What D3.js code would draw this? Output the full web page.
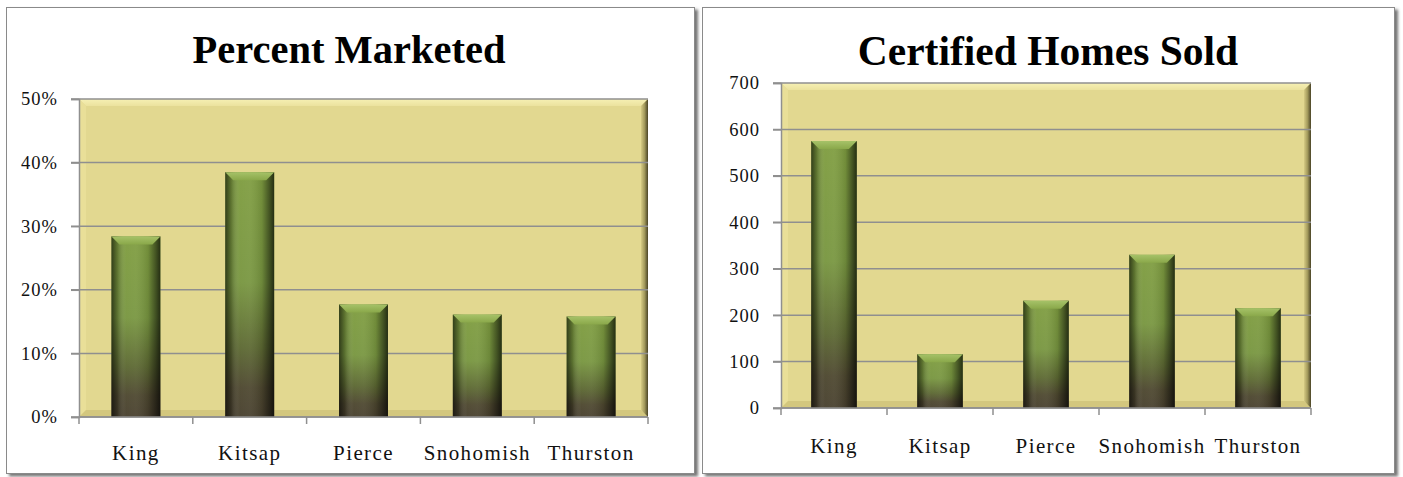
<!DOCTYPE html>
<html><head><meta charset="utf-8">
<script src="https://cdn.jsdelivr.net/npm/d3@7"></script>
<style>body{margin:0;background:#fff}svg{display:block}</style>
</head><body><svg id="c" width="1403" height="477"></svg>
<script>
// ---- data ----
const counties = ["King", "Kitsap", "Pierce", "Snohomish", "Thurston"];
const percentMarketed = [0.284, 0.385, 0.177, 0.161, 0.158];
const percentTicks = [0, 0.1, 0.2, 0.3, 0.4, 0.5];
const homesSold = [575, 116, 231, 330, 215];
const homesTicks = [0, 100, 200, 300, 400, 500, 600, 700];
const chartTitles = ["Percent Marketed", "Certified Homes Sold"];

// ---- layout ----
const charts = [
  { title: chartTitles[0], values: percentMarketed, ticks: percentTicks, max: 0.5, fmt: d3.format(".0%"),
    frame: { x: 6.5, y: 7.5, w: 688, h: 466 }, plot: { l: 79, r: 648, t: 99, b: 417 },
    titleX: 349, titleY: 63, titleSize: 40.5, labelY: 460 },
  { title: chartTitles[1], values: homesSold, ticks: homesTicks, max: 700, fmt: d3.format("d"),
    frame: { x: 702.5, y: 7.5, w: 692, h: 466 }, plot: { l: 781, r: 1311, t: 83, b: 408 },
    titleX: 1048, titleY: 65, titleSize: 41.5, labelY: 453 }
];

const svg = d3.select("#c");
const defs = svg.append("defs");
const FONT = "'Liberation Serif', 'Times New Roman', serif";

// frame shadow
const sh = defs.append("filter").attr("id", "fshadow").attr("x", "-5%").attr("y", "-5%").attr("width", "110%").attr("height", "110%");
sh.append("feDropShadow").attr("dx", 3).attr("dy", 2.5).attr("stdDeviation", 1.6).attr("flood-color", "#666").attr("flood-opacity", 0.9);

// bar vertical gradient
const gv = defs.append("linearGradient").attr("id", "barV").attr("x1", 0).attr("y1", 0).attr("x2", 0).attr("y2", 1);
[[0, "#7f9d40"], [0.45, "#789640"], [0.72, "#5c6832"], [0.88, "#4d472f"], [1, "#48402e"]]
  .forEach(([o, c]) => gv.append("stop").attr("offset", o).attr("stop-color", c));
// bar horizontal shading
const gh = defs.append("linearGradient").attr("id", "barH").attr("x1", 0).attr("y1", 0).attr("x2", 1).attr("y2", 0);
[[0, "#000", 0.6], [0.12, "#000", 0.25], [0.3, "#fff", 0.04], [0.5, "#fff", 0.06], [0.75, "#000", 0.1], [0.9, "#000", 0.45], [1, "#000", 0.7]]
  .forEach(([o, c, a]) => gh.append("stop").attr("offset", o).attr("stop-color", c).attr("stop-opacity", a));
// bar cap
const gc = defs.append("linearGradient").attr("id", "barCap").attr("x1", 0).attr("y1", 0).attr("x2", 0).attr("y2", 1);
[[0, "#a6c268"], [1, "#8aa84a"]].forEach(([o, c]) => gc.append("stop").attr("offset", o).attr("stop-color", c));
// plot bevel gradients
const gr = defs.append("linearGradient").attr("id", "bevR").attr("x1", 0).attr("y1", 0).attr("x2", 1).attr("y2", 0);
[[0, "#d6cb84"], [0.5, "#a39a5c"], [1, "#4a4426"]].forEach(([o, c]) => gr.append("stop").attr("offset", o).attr("stop-color", c));
const gt = defs.append("linearGradient").attr("id", "bevT").attr("x1", 0).attr("y1", 0).attr("x2", 0).attr("y2", 1);
[[0, "#f6f0b4"], [1, "#ebe29e"]].forEach(([o, c]) => gt.append("stop").attr("offset", o).attr("stop-color", c));

charts.forEach(cfg => {
  const g = svg.append("g");
  const f = cfg.frame, p = cfg.plot;

  // frame
  g.append("rect").attr("x", f.x).attr("y", f.y).attr("width", f.w).attr("height", f.h)
    .attr("fill", "#fff").attr("stroke", "#8a8a8a").attr("stroke-width", 1).attr("filter", "url(#fshadow)");

  // scales
  const x = d3.scaleBand().domain(counties).range([p.l, p.r]).padding(0);
  const y = d3.scaleLinear().domain([0, cfg.max]).range([p.b, p.t]);

  // plot background with bevel
  const bv = 7;
  g.append("rect").attr("x", p.l).attr("y", p.t).attr("width", p.r - p.l).attr("height", p.b - p.t).attr("fill", "#e2d890");
  const poly = pts => pts.map(q => q.join(",")).join(" ");
  g.append("polygon").attr("points", poly([[p.l, p.t], [p.r, p.t], [p.r - bv, p.t + bv], [p.l + bv, p.t + bv]])).attr("fill", "url(#bevT)");
  g.append("polygon").attr("points", poly([[p.l, p.t], [p.l + bv, p.t + bv], [p.l + bv, p.b - bv], [p.l, p.b]])).attr("fill", "#e9df98");
  g.append("polygon").attr("points", poly([[p.l, p.b], [p.l + bv, p.b - bv], [p.r - bv, p.b - bv], [p.r, p.b]])).attr("fill", "#d3c77e");
  g.append("polygon").attr("points", poly([[p.r, p.t], [p.r, p.b], [p.r - bv, p.b - bv], [p.r - bv, p.t + bv]])).attr("fill", "url(#bevR)");

  // gridlines
  g.append("g").selectAll("line").data(cfg.ticks).join("line")
    .attr("x1", p.l - 8).attr("x2", p.r).attr("y1", d => y(d)).attr("y2", d => y(d))
    .attr("stroke", "#8f8f8f").attr("stroke-width", 1.5);

  // left axis
  const ya = g.append("g").attr("transform", `translate(${p.l},0)`)
    .call(d3.axisLeft(y).tickValues(cfg.ticks).tickFormat(cfg.fmt).tickSize(8).tickPadding(13));
  ya.select(".domain").attr("stroke", "#8f8f8f").attr("stroke-width", 1.5);
  ya.selectAll(".tick line").attr("stroke", "#8f8f8f").attr("stroke-width", 1.5);
  ya.selectAll(".tick text").attr("font-family", FONT).attr("font-size", 18.5).attr("fill", "#111").attr("letter-spacing", 1);

  // bars
  const bw = x.bandwidth() * 0.43;
  const bars = g.append("g").selectAll("g").data(counties.map((c, i) => ({ c, v: cfg.values[i] }))).join("g");
  bars.append("rect").attr("x", d => x(d.c) + (x.bandwidth() - bw) / 2).attr("width", bw)
    .attr("y", d => y(d.v)).attr("height", d => y(0) - y(d.v)).attr("fill", "url(#barV)");
  bars.append("rect").attr("x", d => x(d.c) + (x.bandwidth() - bw) / 2).attr("width", bw)
    .attr("y", d => y(d.v)).attr("height", d => y(0) - y(d.v)).attr("fill", "url(#barH)");
  const cap = 8;
  bars.append("polygon").attr("points", d => {
    const x0 = x(d.c) + (x.bandwidth() - bw) / 2, x1 = x0 + bw, t = y(d.v);
    return poly([[x0, t], [x1, t], [x1 - cap, t + cap], [x0 + cap, t + cap]]);
  }).attr("fill", "url(#barCap)");

  // bottom axis: boundary ticks + labels
  g.append("line").attr("x1", p.l).attr("x2", p.r).attr("y1", p.b).attr("y2", p.b).attr("stroke", "#8f8f8f").attr("stroke-width", 1.5);
  g.append("g").selectAll("line").data(counties.map(c => x(c)).concat([x.range()[1]])).join("line")
    .attr("x1", d => d).attr("x2", d => d).attr("y1", p.b).attr("y2", p.b + 7)
    .attr("stroke", "#8f8f8f").attr("stroke-width", 1.5);
  const xa = g.append("g").attr("transform", `translate(0,${p.b})`)
    .call(d3.axisBottom(x).tickSize(0).tickPadding(0));
  xa.select(".domain").remove();
  xa.selectAll(".tick text").attr("dy", null).attr("y", cfg.labelY - p.b)
    .attr("font-family", FONT).attr("font-size", 21).attr("letter-spacing", 1.4).attr("fill", "#111");

  // title
  g.append("text").attr("x", cfg.titleX).attr("y", cfg.titleY).attr("text-anchor", "middle")
    .attr("font-family", FONT).attr("font-weight", "bold").attr("font-size", cfg.titleSize).attr("fill", "#000")
    .text(cfg.title);
});
</script></body></html>
